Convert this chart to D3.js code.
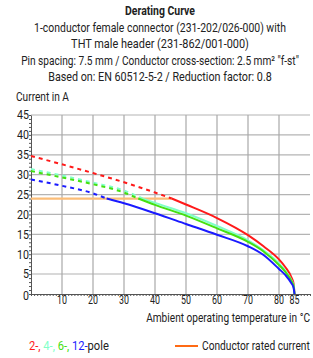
<!DOCTYPE html>
<html>
<head>
<meta charset="utf-8">
<script src="https://cdn.jsdelivr.net/npm/d3@7"></script>
<style>
  body { margin: 0; background: #fff; }
  svg { display: block; font-family: Roboto, "Liberation Sans", sans-serif; }
</style>
</head>
<body>
<script>
// values
var titleLines = [
  "Derating Curve",
  "1-conductor female connector (231-202/026-000) with",
  "THT male header (231-862/001-000)",
  "Pin spacing: 7.5 mm / Conductor cross-section: 2.5 mm\u00b2 \"f-st\"",
  "Based on: EN 60512-5-2 / Reduction factor: 0.8"
];
var xTicks = [10, 20, 30, 40, 50, 60, 70, 80, 85];
var yTicks = [0, 5, 10, 15, 20, 25, 30, 35, 40, 45];
var ratedCurrent = 24;

var pole2 = [[0,34.7],[10,32.6],[20,30.4],[30,28.1],[40,25.5],[45.4,24],[50,22.5],[60,19.1],[70,14.8],[75,12.0],[80,8.7],[82,6.8],[84,4.2],[84.7,2.6],[85,0]];
var pole4 = [[0,31.4],[10,29.8],[20,28.0],[30,26.0],[36,24],[40,22.9],[50,20.3],[60,17.1],[70,13.5],[75,11.0],[80,7.7],[82,5.9],[84,3.5],[84.7,2.2],[85,0]];
var pole6 = [[0,30.9],[10,29.3],[20,27.6],[30,25.5],[34.6,24],[40,22.4],[50,19.7],[60,16.5],[70,13.1],[75,10.7],[80,7.3],[82,5.6],[84,3.3],[84.7,2.0],[85,0]];
var pole12 = [[0,28.8],[10,27.2],[20,25.3],[24.4,24],[30,22.8],[40,20.3],[50,17.6],[60,14.9],[70,12.0],[75,9.8],[80,6.3],[82,4.8],[84,2.7],[84.7,1.6],[85,0]];
var ratedEnd = 45.4; // where the 2-pole curve drops below rated current

var series = [
  {name: "2-", color: "#ff1a1a", data: pole2, knee: 45.4},
  {name: "4-", color: "#80ffc8", data: pole4, knee: 36},
  {name: "6-", color: "#44e010", data: pole6, knee: 34.6},
  {name: "12-", color: "#1a1aff", data: pole12, knee: 24.4}
];

var width = 313, height = 358;
var svg = d3.select("body").append("svg")
            .attr("width", width)
            .attr("height", height);

var x = d3.scaleLinear().domain([0, 90]).range([31, 310]);
var y = d3.scaleLinear().domain([0, 45]).range([294, 115]);

// squeeze a text horizontally to a target width (the reference uses a condensed face)
function fit(t, px, py, w) {
  var n = t.node().getComputedTextLength();
  var s = Math.min(1, w / n);
  t.attr("x", 0).attr("y", 0)
   .attr("transform", "translate(" + px + "," + py + ") scale(" + s + ",1)");
}

// title
var titleY = [15, 32, 48, 65, 81];
var titleW = [70, 252, 178, 278, 224];
titleLines.forEach((d, i) => {
  var t = svg.append("text")
     .attr("text-anchor", "middle")
     .attr("font-size", 12)
     .attr("font-weight", i == 0 ? "bold" : "normal")
     .attr("fill", "#222")
     .text(d);
  fit(t, 160, titleY[i], titleW[i]);
});

fit(svg.append("text")
   .attr("font-size", 12)
   .attr("fill", "#222")
   .text("Current in A"), 16, 101, 53);

// grid
svg.selectAll(".hgrid")
   .data(yTicks.filter(d => d > 0))
   .enter()
   .append("line")
   .attr("x1", x(0)).attr("x2", x(90))
   .attr("y1", d => y(d)).attr("y2", d => y(d))
   .attr("stroke", d => d == 5 ? "#d8d8d8" : "#b4b4b4")
   .attr("stroke-width", d => d == 5 ? 2 : 1.2);

svg.selectAll(".vgrid")
   .data(xTicks.filter(d => d % 10 == 0))
   .enter()
   .append("line")
   .attr("x1", d => x(d)).attr("x2", d => x(d))
   .attr("y1", y(45)).attr("y2", y(0))
   .attr("stroke", "#a8a8a8")
   .attr("stroke-width", 1.2);

// axes with small minor ticks
svg.append("g")
   .attr("transform", "translate(0," + y(0) + ")")
   .call(d3.axisBottom(x).tickValues(d3.range(0, 91, 1)).tickSize(2).tickFormat("").tickSizeOuter(0));
svg.append("g")
   .attr("transform", "translate(" + x(0) + ",0)")
   .call(d3.axisLeft(y).tickValues(d3.range(0, 46, 1)).tickSize(2).tickFormat("").tickSizeOuter(0));
svg.selectAll(".domain").attr("stroke", "#555");
svg.selectAll(".tick line").attr("stroke", "#555");

xTicks.forEach(d => {
  var t = svg.append("text")
     .attr("text-anchor", "middle")
     .attr("font-size", 12)
     .attr("fill", "#222")
     .text(d);
  fit(t, x(d), 304, 10);
});

yTicks.forEach(d => {
  var t = svg.append("text")
     .attr("dy", "0.35em")
     .attr("text-anchor", "end")
     .attr("font-size", 12.5)
     .attr("fill", "#222")
     .text(d);
  fit(t, 29, y(d) + (d == 0 ? 2 : 0), d < 10 ? 6 : 12);
  t.attr("dy", "0.35em");
});

fit(svg.append("text")
   .attr("text-anchor", "end")
   .attr("font-size", 12)
   .attr("fill", "#222")
   .text("Ambient operating temperature in \u00b0C"), 310, 322, 164);

// rated current line
svg.append("line")
   .attr("x1", x(0)).attr("x2", x(ratedEnd))
   .attr("y1", y(ratedCurrent)).attr("y2", y(ratedCurrent))
   .attr("stroke", "#fbbd78")
   .attr("stroke-width", 2.2);

var line = d3.line()
             .x(d => x(d[0]))
             .y(d => y(d[1]))
             .curve(d3.curveMonotoneX);

series.forEach(s => {
  svg.append("path")
     .attr("d", line(s.data.filter(d => d[0] <= s.knee)))
     .attr("fill", "none")
     .attr("stroke", s.color)
     .attr("stroke-width", 2)
     .attr("stroke-dasharray", "4,4");
  svg.append("path")
     .attr("d", line(s.data.filter(d => d[0] >= s.knee)))
     .attr("fill", "none")
     .attr("stroke", s.color)
     .attr("stroke-width", 2);
});

// legend
var leg = svg.append("text")
   .attr("font-size", 12);
series.forEach((s, i) => {
  leg.append("tspan").attr("fill", s.color).text(s.name + (i < 3 ? ", " : ""));
});
leg.append("tspan").attr("fill", "#222").text("pole");
fit(leg, 29, 350, 80);

svg.append("line")
   .attr("x1", 175).attr("x2", 198)
   .attr("y1", 346).attr("y2", 346)
   .attr("stroke", "#ff6a14")
   .attr("stroke-width", 2);
fit(svg.append("text")
   .attr("font-size", 12)
   .attr("fill", "#222")
   .text("Conductor rated current"), 202, 350, 108);
</script>
</body>
</html>
